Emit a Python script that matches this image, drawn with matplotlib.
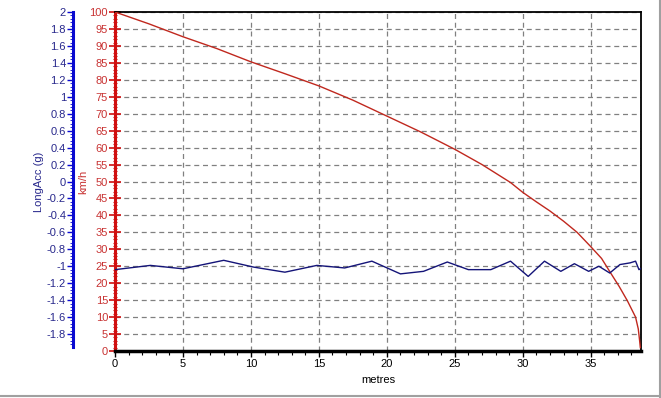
import matplotlib
matplotlib.use("Agg")
import matplotlib.pyplot as plt
from matplotlib.ticker import MultipleLocator, FixedLocator
from matplotlib.lines import Line2D

plt.rcParams['font.family'] = ['Liberation Sans', 'DejaVu Sans']

# speed trace (km/h) against distance (metres)
dist_speed = [0, 2.5, 5, 7.5, 10, 12.5, 15, 17.5, 20, 22.5, 25, 27, 29.1,
              30, 31, 32, 33, 34, 35, 35.8, 36.5, 37.1, 37.7, 38.3, 38.5, 38.6, 38.65]
speed = [100, 96.5, 92.7, 89.2, 85.3, 81.8, 78.2, 74.0, 69.3, 64.6, 59.5, 55.0, 49.7,
         46.8, 44.0, 41.3, 38.3, 35.0, 30.8, 27.3, 22.8, 19.0, 14.8, 10.0, 6.5, 3.0, 1.0]

# longitudinal acceleration (g) against distance
dist_acc = [0, 2.6, 5.0, 8.0, 10.2, 12.5, 14.85, 16.9, 18.9, 21.0, 22.7, 24.45,
            26.0, 27.65, 29.1, 30.4, 31.6, 32.8, 33.8, 34.85, 35.6, 36.4, 37.15,
            37.9, 38.3, 38.55, 38.75]
long_acc = [-1.04, -0.99, -1.03, -0.93, -1.01, -1.07, -0.99, -1.02, -0.94, -1.09,
            -1.06, -0.95, -1.04, -1.04, -0.94, -1.12, -0.94, -1.06, -0.97, -1.06,
            -1.00, -1.08, -0.98, -0.96, -0.94, -1.04, -1.02]

acc_ticks = [round(-1.8 + 0.2 * i, 1) for i in range(20)]

red_txt = '#c83232'
blue_txt = '#28288c'

fig = plt.figure(figsize=(6.61, 3.98), dpi=100)
ax = fig.add_axes([115 / 661, 47 / 398, 526 / 661, 339 / 398])

ax.plot(dist_speed, speed, color='#c0281e', lw=1.0, zorder=3)
ax.set_xlim(0, 38.7)
ax.set_ylim(0, 100)
ax.xaxis.set_major_locator(MultipleLocator(5))
ax.xaxis.set_minor_locator(MultipleLocator(1))
ax.yaxis.set_major_locator(MultipleLocator(5))
ax.yaxis.set_minor_locator(MultipleLocator(1))
ax.grid(True, which='major', color='#808080', ls=(0, (4, 3)), lw=0.9)
ax.set_axisbelow(True)

ax.spines['left'].set_color('#d01010')
ax.spines['left'].set_linewidth(2.2)
ax.spines['bottom'].set_linewidth(2.5)
ax.spines['top'].set_linewidth(1.3)
ax.spines['right'].set_linewidth(1.3)
ax.tick_params(axis='y', which='major', colors='#d01010', labelcolor=red_txt,
               direction='inout', length=8, width=1.2, labelsize=8, pad=1)
ax.tick_params(axis='y', which='minor', colors='#d01010', direction='inout',
               length=3, width=0.8)
ax.tick_params(axis='x', which='major', direction='out', length=4, width=1,
               labelsize=8, pad=2)
ax.tick_params(axis='x', which='minor', direction='out', length=3, width=0.8)
ax.set_xlabel('metres', fontsize=8, labelpad=4)
ax.set_ylabel('km/h', color=red_txt, fontsize=8, labelpad=1)

# acceleration axis on the far left
ax2 = ax.twinx()
ax2.plot(dist_acc, long_acc, color='#141478', lw=1.0, zorder=4)
ax2.set_ylim(-2, 2)
ax2.yaxis.set_ticks_position('left')
ax2.yaxis.set_label_position('left')
ax2.spines['right'].set_visible(False)
ax2.spines['top'].set_visible(False)
ax2.spines['bottom'].set_visible(False)
ax2.spines['left'].set_position(('axes', -42 / 526))
ax2.spines['left'].set_color('#0a0ad0')
ax2.spines['left'].set_linewidth(2.2)
ax2.spines['left'].set_bounds(-1.95, 2)
ax2.set_yticks(acc_ticks)
ax2.set_yticklabels(['{:g}'.format(t) for t in acc_ticks])
ax2.yaxis.set_minor_locator(FixedLocator([round(-1.92 + 0.04 * i, 2) for i in range(98)]))
ax2.tick_params(axis='y', which='major', colors='#0a0ad0', labelcolor=blue_txt,
                direction='out', length=4, width=1, labelsize=8, pad=1)
ax2.tick_params(axis='y', which='minor', colors='#0a0ad0', direction='out',
                length=2, width=0.6)
ax2.set_ylabel('LongAcc (g)', color=blue_txt, fontsize=8, labelpad=2)

# window frame lines at right and bottom
fig.add_artist(Line2D([0, 1], [2.5 / 398, 2.5 / 398], color='#a0a0a0', lw=1.5))
fig.add_artist(Line2D([659.5 / 661, 659.5 / 661], [0, 1], color='#a0a0a0', lw=1.5))

fig.savefig('out.png', dpi=100)
